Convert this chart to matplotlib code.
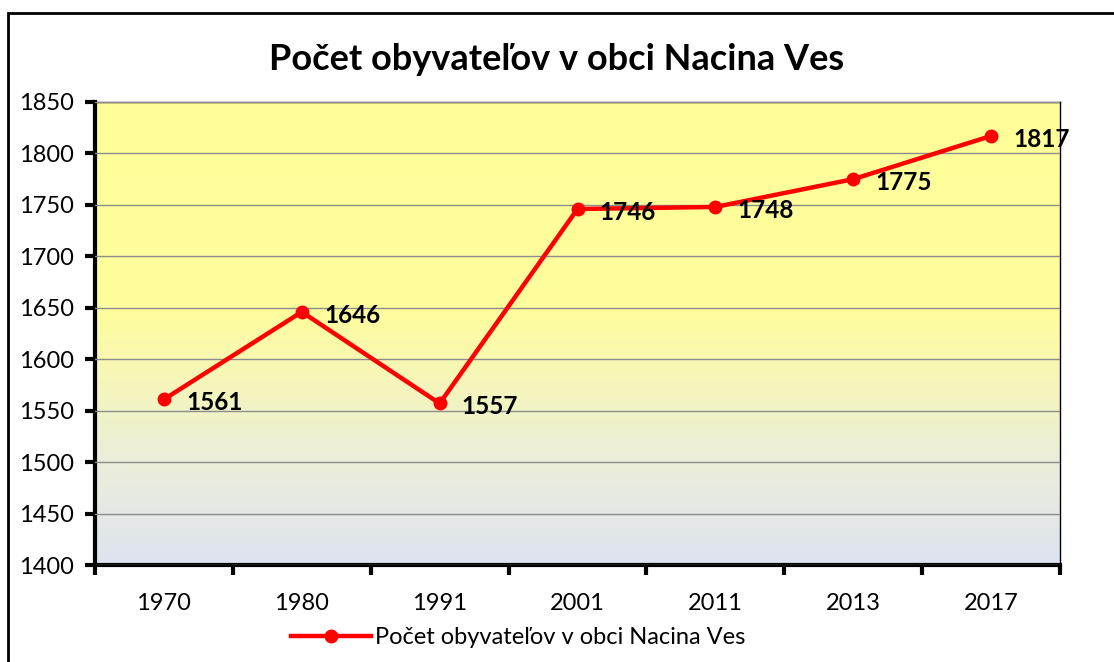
import numpy as np
import matplotlib.pyplot as plt
from matplotlib.colors import LinearSegmentedColormap
from matplotlib.patches import Rectangle

# data
years = ["1970", "1980", "1991", "2001", "2011", "2013", "2017"]
population = [1561, 1646, 1557, 1746, 1748, 1775, 1817]
title = "Počet obyvateľov v obci Nacina Ves"

plt.rcParams['font.family'] = ['Lato', 'DejaVu Sans']

fig = plt.figure(figsize=(11.14, 6.62), dpi=100)
fig.patches.append(Rectangle((8 / 1114, -0.1), 1.2, 1 - 13 / 662 + 0.1,
                             transform=fig.transFigure, fill=False,
                             edgecolor="black", linewidth=2))

ax = fig.add_axes([95 / 1114, 1 - 565 / 662, 965 / 1114, 463 / 662])
x = np.arange(len(years))

# background gradient: yellow at top, pale blue-grey at bottom
cmap = LinearSegmentedColormap.from_list(
    "bg", [(0, "#dde3f1"), (0.25, "#edefd6"), (0.55, "#fffd9c"), (1, "#ffff99")])
grad = np.linspace(0, 1, 256).reshape(-1, 1)
ax.imshow(grad, cmap=cmap, aspect="auto", origin="lower",
          extent=[-0.5, len(years) - 0.5, 1400, 1850], zorder=0)

ax.set_xlim(-0.5, len(years) - 0.5)
ax.set_ylim(1400, 1850)
ax.set_yticks(range(1400, 1851, 50))
ax.yaxis.grid(True, color="#8c8c8c", linewidth=1)
ax.set_axisbelow(False)
for gl in ax.get_ygridlines():
    gl.set_zorder(1)

ax.plot(x, population, color="red", linewidth=3.2, marker="o",
        markersize=9, zorder=3, label=title)
for xi, v in zip(x, population):
    ax.annotate(str(v), (xi, v), xytext=(16, -2.5), textcoords="offset points",
                fontsize=17.5, fontweight="bold", va="center", ha="left",
                zorder=4, annotation_clip=False)

# category labels between tick marks
ax.set_xticks(np.arange(-0.5, len(years), 1))
ax.set_xticklabels([])
ax.set_xticks(x, minor=True)
ax.set_xticklabels(years, minor=True, fontsize=17)
ax.tick_params(axis="x", which="minor", length=0, pad=20)
ax.tick_params(axis="x", which="major", length=7, width=3, direction="out")
ax.tick_params(axis="y", length=7, width=3, labelsize=17, pad=8)

for s in ["left", "bottom"]:
    ax.spines[s].set_linewidth(3)
for s in ["top", "right"]:
    ax.spines[s].set_linewidth(1)

fig.text(0.5, 1 - 60 / 662, title, ha="center", va="center",
         fontsize=26, fontweight="bold")

fig.legend(loc="center", bbox_to_anchor=(0.465, 1 - 638 / 662), frameon=False,
           fontsize=17, handlelength=3.4, handletextpad=0.15)

fig.savefig("out.png", dpi=100)
